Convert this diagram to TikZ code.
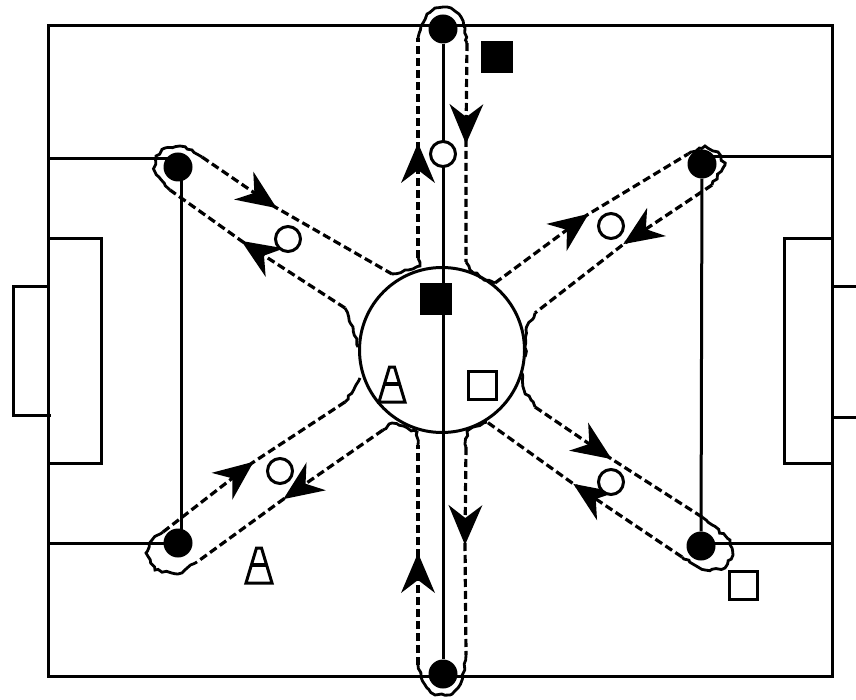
\documentclass[tikz,border=0pt]{standalone}
\usetikzlibrary{decorations.pathmorphing}
\tikzset{
    flowhead/.pic={\fill (2,0) -- (-38,17) -- (-25,0) -- (-38,-17) -- cycle;},
    fieldline/.style={line width=3pt},
    runline/.style={line width=3.2pt, dash pattern=on 8pt off 4pt},
    roughline/.style={line width=2.8pt, decorate, decoration={random steps,segment length=4pt,amplitude=1.3pt}},
    player/.style={circle, fill=black, minimum size=29pt, inner sep=0pt},
    marker/.style={circle, draw, fill=white, line width=3pt, minimum size=25pt, inner sep=0pt},
    blackbox/.style={rectangle, fill=black, minimum size=32pt, inner sep=0pt},
    whitebox/.style={rectangle, draw, fill=white, line width=3pt, minimum size=28pt, inner sep=0pt},
    trainingcone/.pic={
        \draw[line width=3pt, line join=miter] (-13,18) -- (-2.5,-17) -- (2.5,-17) -- (13,18) -- cycle;
        \draw[line width=3.5pt] (-8,0) -- (8,0);
    }
}
\begin{document}
\begin{tikzpicture}[x=1pt,y=-1pt]
    \useasboundingbox (0,0) rectangle (856,700);
    \pgfmathsetseed{11}
    % pitch
    \draw[fieldline] (48,26) rectangle (832,676);
    \draw[fieldline] (48,159) -- (178,159);
    \draw[fieldline] (48,543) -- (178,543);
    \draw[fieldline] (702,157) -- (832,157);
    \draw[fieldline] (701,543) -- (832,543);
    \draw[fieldline] (48,239) -- (101,239) -- (101,463) -- (48,463);
    \draw[fieldline] (832,239) -- (784,239) -- (784,463) -- (832,463);
    \draw[fieldline] (48,287) -- (13,287) -- (13,415) -- (51,415);
    \draw[fieldline] (856,287) -- (832,287);
    \draw[fieldline] (856,417) -- (832,417);
    \node[circle, draw, line width=3pt, minimum size=165pt, inner sep=0pt] (centre) at (442,350) {};
    % players
    \node[player] (top) at (443,29) {};
    \node[player] (bottom) at (443,674) {};
    \node[player] (topleft) at (178,167) {};
    \node[player] (topright) at (702,164) {};
    \node[player] (botleft) at (178,543) {};
    \node[player] (botright) at (701,546) {};
    \draw[fieldline] (top) -- (bottom);
    \draw[fieldline] ([xshift=3pt]topleft.center) -- ([xshift=3pt]botleft.center);
    \draw[fieldline] (topright) -- (botright);
    % turning points and arrow ends of the runs
    \foreach \name/\x/\y in {
        ta/418/258, tb/418/145, tc/418/38, td/467/43, te/466/142, tf/466/262,
        ba/418/665, bb/418/555, bc/418/445, bd/466/447, be/465/543, bf/466/655,
        la/392/274, lb/275/207, lc/202/157, ld/170/190, le/243/242, lf/345/308,
        ra/495/283, rb/587/215, rc/688/154, rd/712/185, re/625/243, rf/535/313,
        va/345/402, vb/252/463, vc/163/532, vd/197/562, ve/285/498, vf/383/430,
        wa/535/407, wb/610/458, wc/702/517, wd/682/557, we/575/485, wf/487/422}
        \coordinate (\name) at (\x,\y);
    % top run
    \draw[runline] (ta) -- (tb) pic[pos=1,sloped,allow upside down] {flowhead} -- (tc);
    \draw[roughline] (tc) -- (421,26) -- (427,14) -- (435,8) -- (451,8) -- (459,14) -- (465,28) -- (td);
    \draw[runline] (td) -- (te) pic[pos=1,sloped,allow upside down] {flowhead} -- (tf);
    % bottom run
    \draw[runline] (ba) -- (bb) pic[pos=1,sloped,allow upside down] {flowhead} -- (bc);
    \draw[runline] (bd) -- (be) pic[pos=1,sloped,allow upside down] {flowhead} -- (bf);
    \draw[roughline] (bf) -- (463,677) -- (458,688) -- (450,695) -- (435,695) -- (427,688) -- (421,677) -- (ba);
    % top left run
    \draw[runline] (lc) -- (lb) pic[pos=1,sloped,allow upside down] {flowhead} -- (la);
    \draw[roughline] (lc) -- (192,150) -- (180,146) -- (165,148) -- (156,156) -- (154,170) -- (ld);
    \draw[runline] (lf) -- (le) pic[pos=1,sloped,allow upside down] {flowhead} -- (ld);
    % top right run
    \draw[runline] (ra) -- (rb) pic[pos=1,sloped,allow upside down] {flowhead} -- (rc);
    \draw[roughline] (rc) -- (705,146) -- (718,152) -- (725,165) -- (rd);
    \draw[runline] (rd) -- (re) pic[pos=1,sloped,allow upside down] {flowhead} -- (rf);
    % bottom left run
    \draw[runline] (vc) -- (vb) pic[pos=1,sloped,allow upside down] {flowhead} -- (va);
    \draw[roughline] (vc) -- (152,540) -- (146,553) -- (155,570) -- (178,574) -- (vd);
    \draw[runline] (vf) -- (ve) pic[pos=1,sloped,allow upside down] {flowhead} -- (vd);
    % bottom right run
    \draw[runline] (wa) -- (wb) pic[pos=1,sloped,allow upside down] {flowhead} -- (wc);
    \draw[roughline] (wc) -- (730,540) -- (733,555) -- (725,568) -- (705,570) -- (wd);
    \draw[runline] (wd) -- (we) pic[pos=1,sloped,allow upside down] {flowhead} -- (wf);
    % rough bits along the centre circle
    \draw[roughline] (la) -- (405,270) -- (420,266) -- (ta);
    \draw[roughline] (tf) -- (470,270) -- (482,278) -- (ra);
    \draw[roughline] (rf) -- (526,330) -- (525,357);
    \draw[roughline] (522,373) -- (524,390) -- (wa);
    \draw[roughline] (wf) -- (467,431) -- (bd);
    \draw[roughline] (vf) -- (392,423) -- (417,432) -- (bc);
    \draw[roughline] (va) -- (356,385) -- (360,378);
    \draw[roughline] (358,347) -- (353,327) -- (lf);
    % markers
    \node[marker] (markertop) at (443,154) {};
    \node[marker] (markerleft) at (288,239) {};
    \node[marker] (markerright) at (611,226) {};
    \node[marker] (markerlow) at (280,471) {};
    \node[marker] (markerdown) at (611,482) {};
    \node[blackbox] (boxa) at (497,57) {};
    \node[blackbox] (boxb) at (436,299) {};
    \node[whitebox] (boxc) at (482,385) {};
    \node[whitebox] (boxd) at (743,585) {};
    \pic at (392,384) {trainingcone};
    \pic at (259,565) {trainingcone};
\end{tikzpicture}
\end{document}
